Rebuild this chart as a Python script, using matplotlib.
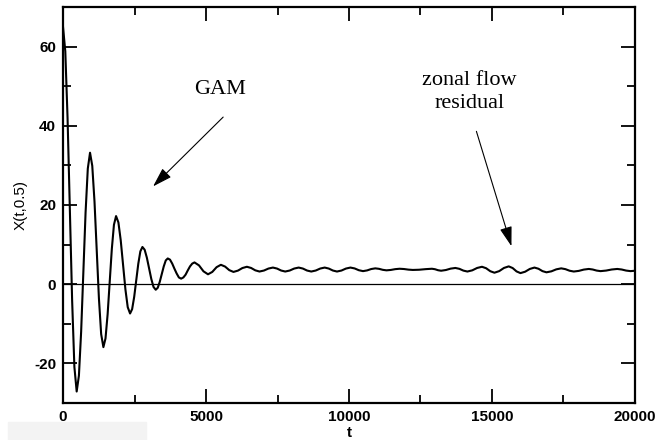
import matplotlib
matplotlib.use("Agg")
import matplotlib.pyplot as plt
from matplotlib.ticker import MultipleLocator
from matplotlib.patches import Rectangle

plt.rcParams['axes.unicode_minus'] = False

# X(t,0.5) (t, value)
t_vals = [0, 80, 159, 239, 319, 398, 478,
          556, 634, 712, 789, 867, 945,
          1023, 1101, 1179, 1256, 1334, 1412,
          1486, 1560, 1634, 1707, 1781, 1855,
          1937, 2018, 2100, 2182, 2263, 2345,
          2417, 2489, 2561, 2633, 2705, 2777,
          2855, 2932, 3010, 3088, 3165, 3243,
          3313, 3383, 3453, 3523, 3593, 3663,
          3741, 3819, 3897, 3974, 4052, 4130,
          4208, 4286, 4364, 4441, 4519, 4597,
          4755, 4912, 5070, 5220, 5370, 5520,
          5667, 5813, 5960, 6117, 6273, 6430,
          6577, 6723, 6870, 7027, 7183, 7340,
          7483, 7627, 7770, 7927, 8083, 8240,
          8387, 8533, 8680, 8837, 8993, 9150,
          9293, 9437, 9580, 9737, 9893, 10050,
          10197, 10343, 10490, 10633, 10777, 10920,
          11050, 11180, 11310, 11463, 11617, 11770,
          11923, 12077, 12230, 12450, 12680, 12900,
          13007, 13113, 13220, 13387, 13553, 13720,
          13860, 14000, 14140, 14310, 14480, 14650,
          14795, 14940, 15085, 15252, 15418, 15585,
          15722, 15858, 15995, 16158, 16322, 16485,
          16625, 16765, 16905, 17077, 17248, 17420,
          17567, 17713, 17860, 18035, 18210, 18385,
          18522, 18658, 18795, 18990, 19185, 19380,
          19535, 19690, 19845, 20000]
x_vals = [65.0, 58.8, 42.0, 18.9, -4.1, -20.9, -27.1,
          -23.1, -12.0, 3.0, 18.1, 29.2, 33.2,
          29.9, 20.9, 8.6, -3.6, -12.6, -15.9,
          -13.7, -7.6, 0.7, 8.9, 15.0, 17.2,
          15.6, 11.1, 4.9, -1.3, -5.8, -7.4,
          -6.3, -3.2, 1.0, 5.2, 8.3, 9.4,
          8.7, 6.7, 4.0, 1.3, -0.7, -1.4,
          -0.9, 0.6, 2.6, 4.5, 6.0, 6.5,
          6.2, 5.2, 3.9, 2.7, 1.7, 1.4,
          1.7, 2.4, 3.5, 4.5, 5.2, 5.5,
          4.75, 3.25, 2.5, 3.1, 4.3, 4.9,
          4.45, 3.55, 3.1, 3.43, 4.08, 4.4,
          4.1, 3.5, 3.2, 3.45, 3.95, 4.2,
          3.95, 3.45, 3.2, 3.45, 3.95, 4.2,
          3.95, 3.45, 3.2, 3.45, 3.95, 4.2,
          3.95, 3.45, 3.2, 3.45, 3.95, 4.2,
          3.98, 3.53, 3.3, 3.48, 3.83, 4.0,
          3.88, 3.63, 3.5, 3.6, 3.8, 3.9,
          3.83, 3.68, 3.6, 3.65, 3.8, 3.9,
          3.78, 3.53, 3.4, 3.58, 3.93, 4.1,
          3.88, 3.43, 3.2, 3.5, 4.1, 4.4,
          4.03, 3.28, 2.9, 3.3, 4.1, 4.5,
          4.08, 3.23, 2.8, 3.15, 3.85, 4.2,
          3.9, 3.3, 3.0, 3.25, 3.75, 4.0,
          3.8, 3.4, 3.2, 3.36, 3.69, 3.85,
          3.71, 3.44, 3.3, 3.44, 3.71, 3.85,
          3.71, 3.44, 3.3, 3.4]

x_ticks = [0, 5000, 10000, 15000, 20000]
y_ticks = [-20, 0, 20, 40, 60]

fig = plt.figure(figsize=(6.57, 4.4), dpi=100)
ax = fig.add_axes([0.0959, 0.0841, 0.8706, 0.9000])

ax.plot(t_vals, x_vals, color="black", lw=1.5)
ax.axhline(0, color="black", lw=0.9)

ax.set_xlim(0, 20000)
ax.set_ylim(-30, 70)
ax.set_xticks(x_ticks)
ax.set_yticks(y_ticks)
ax.xaxis.set_minor_locator(MultipleLocator(2500))
ax.yaxis.set_minor_locator(MultipleLocator(10))
ax.tick_params(which="both", direction="in", top=True, right=True, width=1.3)
ax.tick_params(which="major", length=10, pad=5)
ax.tick_params(which="minor", length=6)
for s in ax.spines.values():
    s.set_linewidth(1.6)

for lab in ax.get_xticklabels() + ax.get_yticklabels():
    lab.set_fontfamily("Liberation Sans")
    lab.set_fontweight("bold")
    lab.set_fontsize(11)

ax.set_xlabel("t", fontfamily="Liberation Sans", fontweight="bold", fontsize=11)
ax.set_ylabel("X(t,0.5)", fontfamily="Liberation Sans", fontsize=11)
ax.xaxis.set_label_coords(0.5, -0.058)
ax.yaxis.set_label_coords(-0.062, 0.5)

ax.text(5495, 49.2, "GAM", fontfamily="Liberation Serif", fontsize=16,
        ha="center", va="center")
ax.text(14200, 48.6, "zonal flow\nresidual", fontfamily="Liberation Serif",
        fontsize=16, ha="center", va="center", linespacing=1.3)

arrow = dict(arrowstyle="-|>,head_length=0.8,head_width=0.25", color="black",
             lw=0.8, mutation_scale=15, shrinkA=0, shrinkB=0)
ax.annotate("", xy=(3150, 24.7), xytext=(5600, 42.2), arrowprops=arrow)
ax.annotate("", xy=(15680, 9.6), xytext=(14455, 38.6), arrowprops=arrow)

fig.patches.append(Rectangle((8 / 657, 0), 138 / 657, 18 / 440,
                             transform=fig.transFigure, color="#f3f3f3",
                             zorder=-1))

fig.savefig("out.png", dpi=100)
